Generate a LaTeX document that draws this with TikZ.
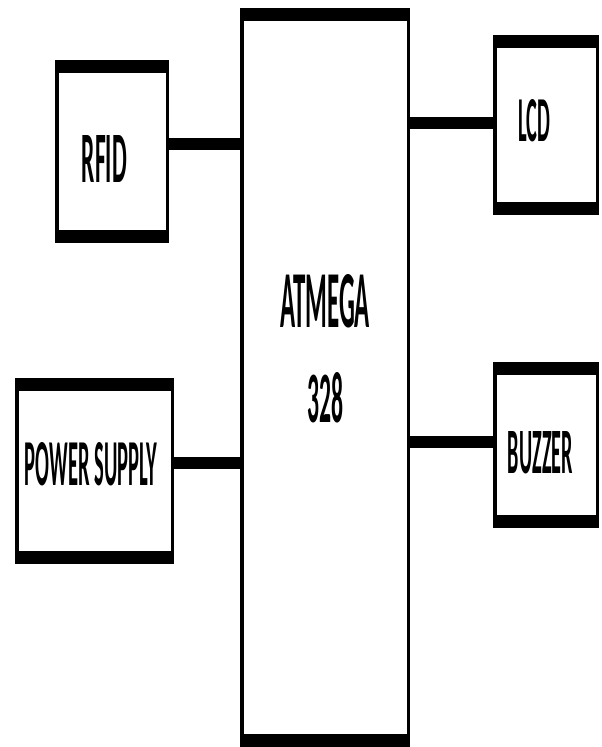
\documentclass[tikz,border=0pt]{standalone}
\usepackage{fontspec}
\setmainfont{Carlito}
\usetikzlibrary{calc}
\newcommand\sqtext[3]{\resizebox{#1pt}{#2pt}{\bfseries #3}}
\tikzset{
  blockbox/.style={draw=black, line width=3.5pt, outer sep=0pt, inner sep=0pt},
  lbl/.style={inner sep=0pt, outer sep=0pt, anchor=center, text=black},
  conn/.style={draw=black, line width=12pt, line cap=butt}
}
\begin{document}
\begin{tikzpicture}[x=1pt,y=-1pt]
\useasboundingbox (0,0) rectangle (602,747);
% blocks
\node[blockbox, minimum width=110.5pt, minimum height=179.5pt] (rfid) at (112,151.5) {};
\node[blockbox, minimum width=155.5pt, minimum height=182.5pt] (ps) at (94.5,471) {};
\node[blockbox, minimum width=102.5pt, minimum height=176.5pt] (lcd) at (546,125) {};
\node[blockbox, minimum width=102.5pt, minimum height=162.5pt] (buz) at (546,445) {};
\node[blockbox, minimum width=166.5pt, minimum height=735.5pt] (atm) at (325,377.5) {};
% thick top and bottom bands
\foreach \n in {rfid,ps,lcd,buz,atm}{
  \fill[black] ([xshift=-1.75pt,yshift=1.75pt]\n.north west) rectangle ([xshift=1.75pt,yshift=-11.25pt]\n.north east);
  \fill[black] ([xshift=-1.75pt,yshift=-1.75pt]\n.south west) rectangle ([xshift=1.75pt,yshift=11.25pt]\n.south east);
}
% labels
\node[lbl] (trfid) at (104.5,158.5) {\sqtext{45}{47}{RFID}};
\node[lbl] (tps) at (91,464.5) {\sqtext{132}{43}{POWER SUPPLY}};
\node[lbl] (tlcd) at (534,121) {\sqtext{32}{42}{LCD}};
\node[lbl] (tbuz) at (540.5,453) {\sqtext{65}{42}{BUZZER}};
\node[lbl] (tatm1) at (325,301.5) {\sqtext{90}{53}{ATMEGA}};
\node[lbl] (tatm2) at (325,398) {\sqtext{36}{50}{328}};
% connectors
\draw[conn] ([yshift=7.5pt]rfid.east) coordinate (c1) -- (c1 -| atm.west);
\draw[conn] ([yshift=8pt]ps.east) coordinate (c2) -- ([xshift=2pt]c2 -| atm.west);
\draw[conn] ([yshift=2pt]lcd.west) coordinate (c3) -- (c3 -| atm.east);
\draw[conn] ([yshift=3pt]buz.west) coordinate (c4) -- (c4 -| atm.east);
\end{tikzpicture}
\end{document}
